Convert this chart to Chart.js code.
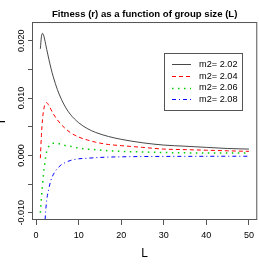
<!DOCTYPE html>
<html>
<head>
<meta charset="utf-8">
<script src="https://cdn.jsdelivr.net/npm/chart.js@4/dist/chart.umd.min.js"></script>
<style>
html,body{margin:0;padding:0;background:#fff;}
canvas{display:block;}
</style>
</head>
<body>
<canvas id="c" width="259" height="269"></canvas>
<script>
const L = [1,1.25,1.5,1.75,2,2.25,2.5,3,3.5,4,5,6,7,8,10,12,14,17,20,25,30,35,40,45,50];
const r202 = [0.0186,0.0207,0.0213,0.0210,0.0203,0.0194,0.0185,0.0168,0.0152,0.0138,0.0115,0.0097,0.0083,0.0072,0.0057,0.0047,0.0040,0.0033,0.0028,0.0022,0.0018,0.0016,0.0014,0.0012,0.0011];
const r204 = [-0.0005,0.0035,0.0062,0.0078,0.0087,0.0091,0.0092,0.0087,0.0080,0.0073,0.0062,0.0053,0.0046,0.0040,0.0032,0.0027,0.0023,0.0019,0.0017,0.0014,0.0011,0.0010,0.0009,0.0008,0.0007];
const r206 = [-0.0100,-0.0075,-0.0052,-0.0032,-0.0016,-0.0003,0.0007,0.0016,0.0020,0.0021,0.0021,0.0019,0.0017,0.0016,0.0013,0.0011,0.0010,0.0008,0.0007,0.0006,0.0005,0.00045,0.0004,0.0004,0.0004];
const r208 = [-0.040,-0.030,-0.023,-0.017,-0.0128,-0.0098,-0.0078,-0.0058,-0.0043,-0.0034,-0.0023,-0.0016,-0.0012,-0.0009,-0.0006,-0.0005,-0.0004,-0.0003,-0.00025,-0.0002,-0.00018,-0.00017,-0.00016,-0.00015,-0.00015];
const seriesLabels = ['m2= 2.02','m2= 2.04','m2= 2.06','m2= 2.08'];
const xTicks = [0,10,20,30,40,50];
const yTicks = [-0.010,-0.005,0.000,0.005,0.010,0.015,0.020];
const yTickLabels = ['-0.010','','0.000','','0.010','','0.020'];
const titleText = 'Fitness (r) as a function of group size (L)';

const FONT = "'Liberation Sans', Arial, Helvetica, sans-serif";
const colors = ['#333333','#FF0000','#00CD00','#0000FF'];
const dashes = [[],[4,3],[1.5,4.5],[4,3,1,3]];
const widths = [0.9,1,1.5,1];
const allSeries = [r202,r204,r206,r208];

const datasets = allSeries.map((s,i)=>({
  label: seriesLabels[i],
  data: L.map((x,j)=>({x:x,y:s[j]})),
  borderColor: colors[i],
  borderDash: dashes[i],
  borderWidth: widths[i],
  pointRadius: 0,
  fill: false,
  cubicInterpolationMode: 'monotone'
}));

const boxPlugin = {
  id: 'box',
  afterDatasetsDraw(chart) {
    const {ctx, chartArea: a} = chart;
    ctx.save();
    ctx.strokeStyle = '#555';
    ctx.lineWidth = 1;
    ctx.setLineDash([]);
    ctx.strokeRect(a.left+0.5, a.top+0.5, a.right-a.left-1, a.bottom-a.top-1);
    // legend
    const lx = 164.5, ly = 53.5, lw = 78, lh = 57;
    ctx.fillStyle = '#fff';
    ctx.fillRect(lx, ly, lw, lh);
    ctx.strokeRect(lx, ly, lw, lh);
    const rows = [64.3, 76, 87.7, 99.3];
    chart.data.datasets.forEach((ds,i)=>{
      const y = Math.round(rows[i]) + 0.5;
      ctx.beginPath();
      ctx.strokeStyle = ds.borderColor;
      ctx.lineWidth = ds.borderWidth;
      ctx.setLineDash(ds.borderDash);
      ctx.moveTo(172, y);
      ctx.lineTo(191, y);
      ctx.stroke();
      ctx.setLineDash([]);
      ctx.fillStyle = '#000';
      ctx.font = '9.2px ' + FONT;
      ctx.textBaseline = 'middle';
      ctx.textAlign = 'left';
      ctx.fillText(ds.label, 199, rows[i]);
    });
    ctx.restore();
  }
};

new Chart(document.getElementById('c'), {
  type: 'line',
  data: { datasets },
  plugins: [boxPlugin],
  options: {
    responsive: false,
    animation: false,
    devicePixelRatio: 1,
    layout: { padding: { left: 0, right: 1, top: 0, bottom: 0 } },
    plugins: {
      legend: { display: false },
      tooltip: { enabled: false },
      title: {
        display: true,
        fullSize: false,
        text: titleText,
        color: '#000',
        font: { family: FONT, size: 9.6, weight: 'bold', lineHeight: 1.2 },
        padding: { top: 9, bottom: 1.5 }
      }
    },
    scales: {
      x: {
        type: 'linear',
        min: -0.96,
        max: 51.96,
        afterBuildTicks(s) { s.ticks = xTicks.map(v=>({value:v})); },
        afterFit(s) { s.height = 49; },
        ticks: {
          color: '#000',
          font: { family: FONT, size: 9 },
          padding: 5,
          maxRotation: 0,
          callback: v => String(v)
        },
        grid: { drawOnChartArea: false, drawTicks: true, tickLength: 5, color: '#555' },
        border: { display: false },
        title: {
          display: true,
          text: 'L',
          color: '#000',
          font: { family: FONT, size: 12, lineHeight: 1.2 },
          padding: { top: 0, bottom: 8 }
        }
      },
      y: {
        type: 'linear',
        min: -0.01128,
        max: 0.02328,
        afterBuildTicks(s) { s.ticks = yTicks.map(v=>({value:v})); },
        afterFit(s) { s.width = 32; },
        ticks: {
          color: '#000',
          font: { family: FONT, size: 9 },
          minRotation: 90,
          maxRotation: 90,
          crossAlign: 'center',
          padding: -6,
          callback: (v) => {
            const i = yTicks.findIndex(t => Math.abs(t - v) < 1e-9);
            return i >= 0 ? yTickLabels[i] : '';
          }
        },
        grid: { drawOnChartArea: false, drawTicks: true, tickLength: 4, color: '#555' },
        border: { display: false },
        title: {
          display: true,
          text: 'r',
          color: '#000',
          font: { family: FONT, size: 12, lineHeight: 1.2 },
          padding: { top: -6, bottom: 0 }
        }
      }
    }
  }
});
</script>
</body>
</html>
